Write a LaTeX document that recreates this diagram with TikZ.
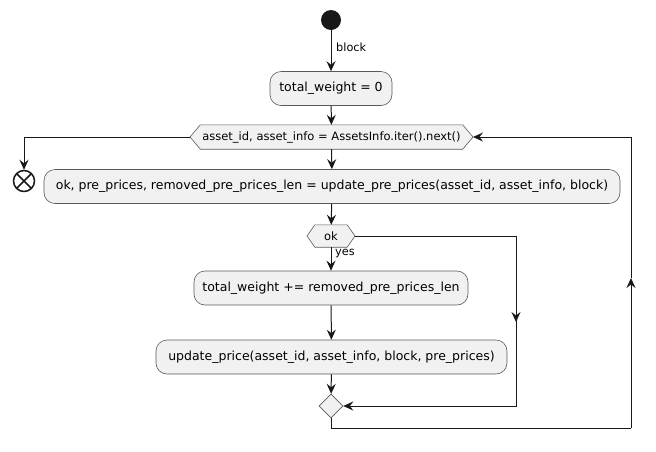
\documentclass[tikz,border=0pt]{standalone}
\usepackage{fontspec}
\setmainfont{DejaVu Sans}
\usetikzlibrary{arrows.meta,shapes.geometric}
\definecolor{boxfill}{HTML}{F1F1F1}
\definecolor{edge}{HTML}{181818}
\definecolor{bord}{HTML}{5A5A5A}
\begin{document}
\begin{tikzpicture}[x=1pt,y=-1pt,
  act/.style={draw=bord,fill=boxfill,line width=0.6pt,rounded corners=11pt,minimum height=34pt,inner sep=0pt,font=\fontsize{12.5}{15}\selectfont},
  flow/.style={draw=edge,line width=1pt,-{Stealth[length=10pt,width=9pt,inset=3.5pt]}},
  plain/.style={draw=edge,line width=1pt},
  lbl/.style={font=\fontsize{11.3}{13}\selectfont,text=black,inner sep=0pt},
  small/.style={font=\fontsize{11.5}{13}\selectfont,inner sep=0pt},
  hexshape/.style={draw=bord,fill=boxfill,line width=0.6pt}]
\useasboundingbox (0,0) rectangle (656,451);
\fill[white] (0,0) rectangle (656,451);
% start
\node[circle,fill=edge,minimum size=20pt,inner sep=0pt] (start) at (331,20) {};
% activity 1
\node[act,minimum width=122pt] (n1) at (331,88.5) {total\_weight = 0};
% hexagon loop test
\node[inner sep=0pt,minimum width=262pt,minimum height=24pt] (hex) at (331.5,137) {};
\coordinate (hexL) at (190,137);
\coordinate (hexR) at (473,137);
\draw[hexshape] (hexL) -- (hex.north west) -- (hex.north east) -- (hexR) -- (hex.south east) -- (hex.south west) -- cycle;
\node[small] (hextext) at (hex.center) {asset\_id, asset\_info = AssetsInfo.iter().next()};
% end
\node[circle,draw=edge,line width=1.5pt,fill=white,minimum size=21pt,inner sep=0pt] (end) at (24,181) {};
\draw[edge,line width=1.5pt] ([shift={(-7.4,-7.4)}]end.center) -- ([shift={(7.4,7.4)}]end.center)
  ([shift={(-7.4,7.4)}]end.center) -- ([shift={(7.4,-7.4)}]end.center);
% activity 2
\node[act,minimum width=576pt] (n2) at (332,186.5) {ok, pre\_prices, removed\_pre\_prices\_len = update\_pre\_prices(asset\_id, asset\_info, block)};
% ok diamond
\node[inner sep=0pt,minimum width=32pt,minimum height=22pt] (ok) at (331,236) {};
\coordinate (okL) at (307,236);
\coordinate (okR) at (355,236);
\draw[hexshape] (okL) -- (ok.north west) -- (ok.north east) -- (okR) -- (ok.south east) -- (ok.south west) -- cycle;
\node[small] (oktext) at (ok.center) {ok};
% activity 3, 4
\node[act,minimum width=274pt] (n3) at (331,288) {total\_weight += removed\_pre\_prices\_len};
\node[act,minimum width=351pt] (n4) at (331.5,357) {update\_price(asset\_id, asset\_info, block, pre\_prices)};
% merge
\node[diamond,draw=bord,fill=boxfill,line width=0.6pt,minimum width=24pt,minimum height=24pt,inner sep=0pt] (merge) at (331,406) {};
% connectors
\draw[flow] (start) -- (n1);
\node[lbl,anchor=west] (blocklbl) at (336,47) {block};
\draw[flow] (n1) -- (hex);
\draw[flow] (hex) -- (n2);
\draw[flow] (hexL) -| (end);
\draw[flow] (n2) -- (ok);
\draw[flow] (ok) -- (n3);
\node[lbl,anchor=west] (yeslbl) at (335,254) {yes};
\draw[flow] (n3) -- (n4);
\draw[flow] (n4) -- (merge);
% no branch
\coordinate (noA) at (516,236);
\coordinate (noM) at (516,322);
\coordinate (noB) at (516,406);
\draw[plain] (okR) -- (noA) -- ([yshift=-2]noM);
\draw[flow] (noA) -- (noM);
\draw[flow] (noM) -- (noB) -- (merge.east);
% loop back
\coordinate (lpA) at (331,428);
\coordinate (lpB) at (631,428);
\coordinate (lpM) at (631,278);
\coordinate (lpC) at (631,137);
\draw[plain] (merge.south) -- (lpA) -- (lpB);
\draw[flow] (lpB) -- (lpM);
\draw[flow] (lpM) -- (lpC) -- (hexR);
\end{tikzpicture}
\end{document}
